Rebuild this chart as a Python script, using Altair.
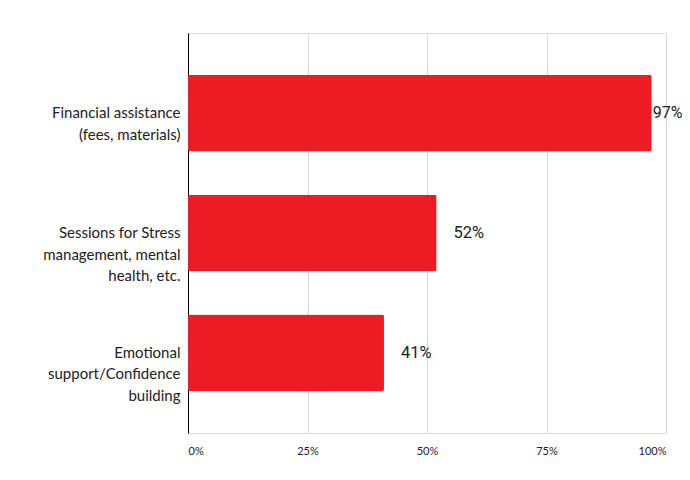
import altair as alt
import pandas as pd

categories = [
    "Financial assistance|(fees, materials)",
    "Sessions for Stress|management, mental|health, etc.",
    "Emotional|support/Confidence|building",
]
values = [0.97, 0.52, 0.41]
labels = ["97%", "52%", "41%"]

df = pd.DataFrame({"cat": categories, "value": values, "label": labels})

y_enc = alt.Y(
    "cat:N",
    sort=categories,
    title=None,
    scale=alt.Scale(paddingInner=0.36, paddingOuter=0.35),
    axis=alt.Axis(
        labelExpr="split(datum.label, '|')",
        labelFont="Lato",
        labelFontSize=15,
        labelColor="#222222",
        labelLineHeight=21.5,
        labelPadding=8,
        ticks=False,
        domainColor="#000000",
        domainWidth=1,
        labelLimit=300,
    ),
)
x_enc = alt.X(
    "value:Q",
    title=None,
    scale=alt.Scale(domain=[0, 1]),
    axis=alt.Axis(
        values=[0, 0.25, 0.5, 0.75, 1.0],
        format=".0%",
        labelFont="Lato",
        labelFontSize=11,
        labelColor="#222222",
        labelPadding=12,
        ticks=False,
        domain=False,
        grid=True,
        gridColor="#d9d9d9",
        gridWidth=1,
    ),
)

bars = alt.Chart(df).mark_bar(color="#ED1C24", cornerRadius=2).encode(x=x_enc, y=y_enc)

text_small = (
    alt.Chart(df)
    .transform_filter("datum.value < 0.9")
    .mark_text(align="left", baseline="middle", dx=17, font="Roboto", fontSize=16.5, color="#222222")
    .encode(x="value:Q", y=alt.Y("cat:N", sort=categories), text="label:N")
)
text_big = (
    alt.Chart(df)
    .transform_filter("datum.value >= 0.9")
    .mark_text(align="left", baseline="middle", dx=1, font="Roboto", fontSize=16, color="#222222")
    .encode(x="value:Q", y=alt.Y("cat:N", sort=categories), text="label:N")
)

chart = (
    alt.layer(bars, text_small, text_big)
    .properties(
        width=478,
        height=400,
        autosize=alt.AutoSizeParams(type="none"),
        padding={"left": 180, "top": 25, "right": 16, "bottom": 40},
    )
    .configure_view(stroke=None)
    .configure(background="white")
)

chart.save("out.html", embed_options={"renderer": "svg", "actions": False})
